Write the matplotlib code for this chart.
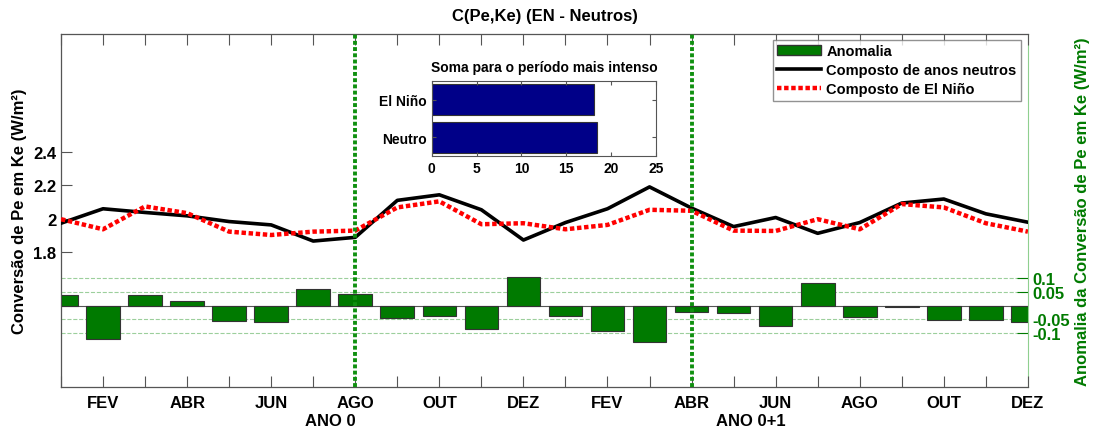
import matplotlib.pyplot as plt
import numpy as np
from matplotlib.patches import Patch
from matplotlib.lines import Line2D

plt.rcParams['font.family'] = ['Liberation Sans', 'DejaVu Sans']
plt.rcParams['font.weight'] = 'bold'
estreita = ['Liberation Sans Narrow', 'Liberation Sans', 'DejaVu Sans']

# months 1..24 (ano 0 and ano 0+1)
meses = np.arange(1, 25)
rotulos = ['FEV', 'ABR', 'JUN', 'AGO', 'OUT', 'DEZ'] * 2

neutros = [1.974, 2.06, 2.038, 2.018, 1.984, 1.964, 1.868, 1.89, 2.11, 2.143, 2.054, 1.874,
           1.978, 2.06, 2.19, 2.064, 1.954, 2.008, 1.914, 1.978, 2.094, 2.118, 2.03, 1.98]
elnino = [1.998, 1.938, 2.074, 2.034, 1.924, 1.904, 1.924, 1.93, 2.068, 2.104, 1.968, 1.974,
          1.938, 1.964, 2.054, 2.048, 1.93, 1.928, 1.998, 1.938, 2.088, 2.068, 1.974, 1.924]
anomalia = [0.037, -0.122, 0.039, 0.018, -0.058, -0.062, 0.059, 0.044, -0.047, -0.038, -0.086, 0.104,
            -0.039, -0.095, -0.136, -0.023, -0.027, -0.076, 0.084, -0.042, -0.005, -0.052, -0.054, -0.060]

soma_nomes = ['Neutro', 'El Niño']
soma_vals = [18.4, 18.1]

verde = '#007a00'

fig = plt.figure(figsize=(10.97, 4.31), dpi=100)
ax = fig.add_axes([0.0556, 0.0998, 0.8814, 0.8192])
ax2 = ax.twinx()

# anomaly bars on the right axis
ax2.bar(meses, anomalia, width=0.8, color=verde, edgecolor='#333333', linewidth=0.8, zorder=2)
ax2.axhline(0, color='#555555', lw=0.8, zorder=1)
for v in [0.1, 0.05, -0.05, -0.1]:
    ax2.axhline(v, color='#9ccf9c', lw=0.8, ls='--', zorder=0)
ax2.set_ylim(-0.3, 1.0)
ax2.set_yticks([-0.1, -0.05, 0.05, 0.1])
ax2.set_yticklabels(['-0.1', '-0.05', '0.05', '0.1'])
ax2.tick_params(axis='y', colors=verde, direction='in', labelsize=12, length=8, pad=3)
ax2.spines['right'].set_color('#8fcf8f')
ax2.set_ylabel('Anomalia da Conversão de Pe em Ke (W/m²)', color=verde, fontsize=12,
               fontweight='bold', labelpad=4)

# composites on the left axis, drawn on top
ax.set_zorder(ax2.get_zorder() + 1)
ax.patch.set_visible(False)
ax.plot(meses, neutros, color='black', lw=2.6, zorder=3)
ax.plot(meses, elnino, color='red', lw=3.2, ls=(0, (1, 0.6)), zorder=3)
for xv in [8, 16]:
    ax.axvline(xv, color='#109010', lw=2.8, ls=(0, (1, 0.6)), zorder=4)

ax.set_xlim(1, 24)
ax.set_ylim(1.0, 3.1)
ax.set_yticks([1.8, 2.0, 2.2, 2.4])
ax.set_yticklabels(['1.8', '2', '2.2', '2.4'])
ax.set_xticks(meses)
ax.set_xticklabels(['' if m % 2 else rotulos[(m // 2) - 1] for m in meses], family=estreita)
ax.tick_params(axis='both', direction='in', top=True, labelsize=12, length=8, color='#555555')
ax.tick_params(axis='x', pad=6)
ax.set_ylabel('Conversão de Pe em Ke (W/m²)', fontsize=12, fontweight='bold')
ax.set_title('C(Pe,Ke) (EN - Neutros)', fontsize=12, fontweight='bold', pad=10)
for s in ['left', 'top', 'bottom']:
    ax.spines[s].set_color('#555555')
ax.spines['right'].set_visible(False)

xt = ax.get_xaxis_transform()
ax.text(7.4, -0.073, 'ANO 0', transform=xt, ha='center', va='top', fontsize=12,
        fontweight='bold', family=estreita)
ax.text(17.4, -0.073, 'ANO 0+1', transform=xt, ha='center', va='top', fontsize=12,
        fontweight='bold', family=estreita)

# legend
handles = [Patch(facecolor=verde, edgecolor='#333333'),
           Line2D([], [], color='black', lw=2.6),
           Line2D([], [], color='red', lw=3.2, ls=(0, (1, 0.6)))]
leg = ax.legend(handles, ['Anomalia', 'Composto de anos neutros', 'Composto de El Niño'],
                loc='upper right', bbox_to_anchor=(0.993, 0.983), fontsize=10.5, frameon=True,
                fancybox=False, edgecolor='#777777', borderpad=0.3, labelspacing=0.35,
                handlelength=3.0, handletextpad=0.4, borderaxespad=0)
leg.set_zorder(10)

# inset with the sums
axi = fig.add_axes([0.3935, 0.635, 0.2045, 0.1754])
axi.barh([0, 1], soma_vals, height=0.8, color='#000088', edgecolor='#333333', linewidth=0.8)
axi.set_xlim(0, 25)
axi.set_ylim(-0.5, 1.5)
axi.set_yticks([0, 1])
axi.set_yticklabels(soma_nomes)
axi.set_xticks([0, 5, 10, 15, 20, 25])
axi.tick_params(direction='in', top=True, right=True, labelsize=10, length=3, color='#555555')
axi.set_title('Soma para o período mais intenso', fontsize=10, fontweight='bold', pad=7)
for s in axi.spines.values():
    s.set_color('#555555')

fig.savefig('out.png', dpi=100)
